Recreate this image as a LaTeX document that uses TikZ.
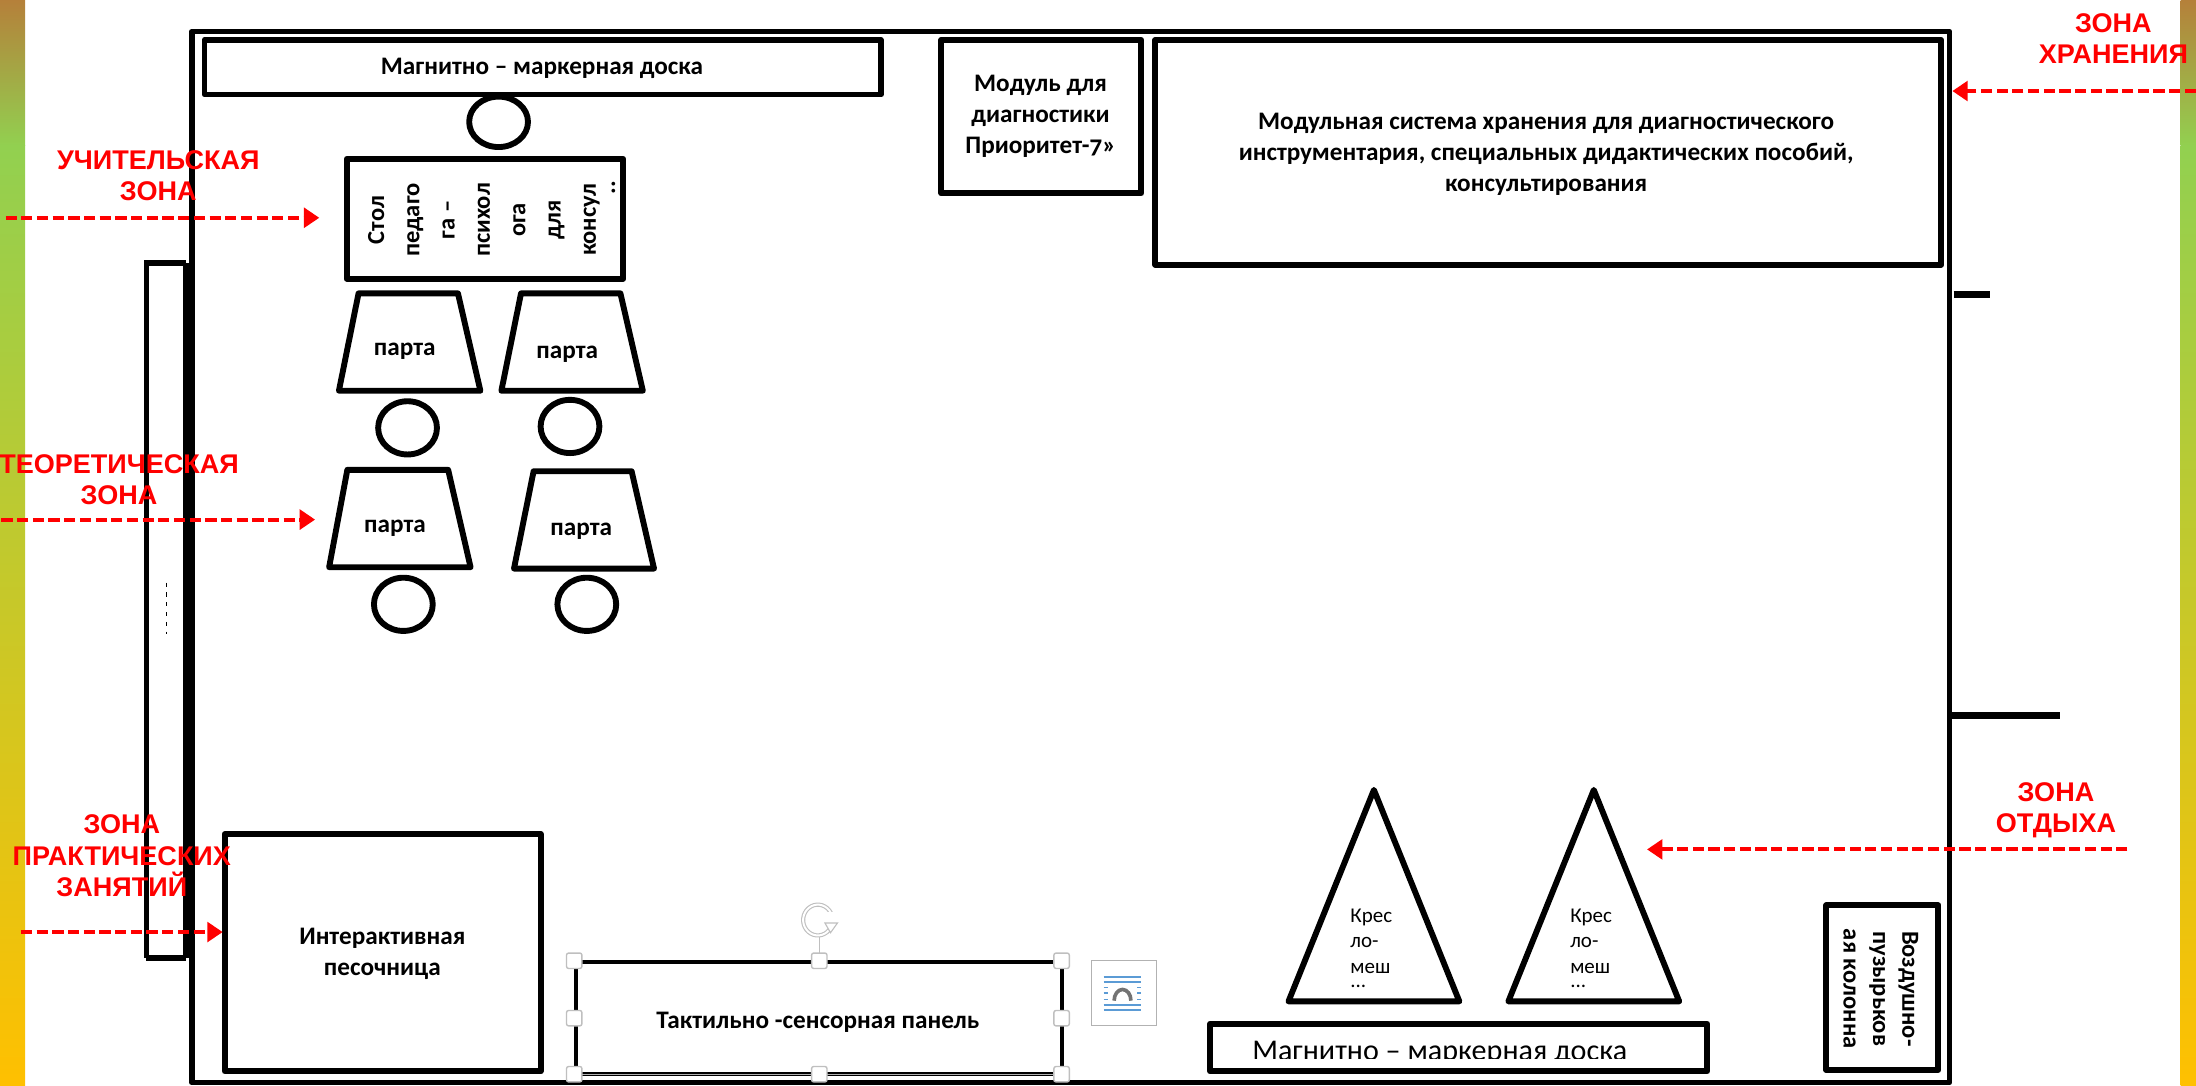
\documentclass[tikz,border=0pt]{standalone}
\usepackage{fontspec}
\setmainfont{Carlito}[Numbers=OldStyle]
\newfontfamily\zonefont{Liberation Sans}
\usetikzlibrary{arrows.meta}

\definecolor{stripbrown}{HTML}{B5803A}
\definecolor{stripgreen}{HTML}{92D050}
\definecolor{striporange}{HTML}{FFC000}
\definecolor{iconblue}{HTML}{5B9BD5}

\tikzset{
    wall/.style={line width=4pt, line join=round},
    item/.style={line width=4.2pt, line join=round},
    itemtext/.style={align=center, font=\fontsize{18}{22}\selectfont\bfseries},
    plaintext/.style={align=center, font=\fontsize{15}{22}\selectfont},
    chairtext/.style={align=left, anchor=north west, inner sep=0pt, font=\fontsize{15}{18}\selectfont},
    chairdots/.style={anchor=north west, inner sep=0pt, text height=2pt, text depth=0pt, font=\fontsize{15}{18}\selectfont},
    zonetext/.style={align=center, text=red, font=\zonefont\fontsize{19.3}{22.4}\selectfont\bfseries},
    zonearrow/.style={draw=red, line width=2.8pt, dash pattern=on 8pt off 3.2pt, -{Triangle[length=11pt,width=14pt]}},
    handle/.style={draw=black!25, fill=white, line width=1pt, rounded corners=1.5pt, minimum size=11pt, inner sep=0pt},
    iconline/.style={draw=iconblue, line width=1.1pt},
}

\begin{document}
\begin{tikzpicture}[x=1pt,y=-1pt]
        \useasboundingbox (0,0) rectangle (1568,775.4);

        % Side strips
        \shade [top color=stripbrown, bottom color=stripgreen] (0,0) rectangle (18,104);
        \shade [top color=stripgreen, bottom color=striporange] (0,104) rectangle (18,775.4);
        \shade [top color=stripbrown, bottom color=stripgreen] (1557,0) rectangle (1568,104);
        \shade [top color=stripgreen, bottom color=striporange] (1557,104) rectangle (1568,775.4);

        % Room
        \draw [wall] (137,22.5) rectangle (1392,773);
        \draw [line width=4pt] (104.5,684) -- (104.5,188) -- (133,188);
        \draw [line width=4pt] (104.5,684) -- (133,684);
        \draw [line width=6pt] (133.5,188) -- (133.5,684);
        \draw [black, line width=.6pt, dash pattern=on 3pt off 4pt] (118.5,416) -- (118.5,453);
        \draw [line width=5pt] (1395,210) -- (1421,210);
        \draw [line width=5pt] (1392,511) -- (1471,511);

        % Teacher zone
        \draw [item] (146,28.5) rectangle (629,67.5);
        \node [itemtext] (topboard) at (387,49) {Магнитно – маркерная доска};
        \draw [item] (356,87) ellipse (21 and 18);
        \draw [item] (247.5,113.5) rectangle (445,199);
        \node [itemtext, rotate=90, font=\fontsize{17.5}{25.2}\selectfont\bfseries] (teachertable) at (345.5,157) {Стол\\педаго\\га --\\психол\\ога\\для\\консул};
        \node [itemtext, rotate=90] (teacherdots) at (438,134) {..};

        % Desks
        \draw [item] (256,209.5) -- (327,209.5) -- (343,279) -- (242,279) -- cycle;
        \node [itemtext] (deskone) at (289,251) {парта};
        \draw [item] (372,209.5) -- (443,209.5) -- (459,279) -- (358,279) -- cycle;
        \node [itemtext] (desktwo) at (405,253) {парта};
        \draw [item] (291,305.5) ellipse (21 and 19);
        \draw [item] (407,304.5) ellipse (21 and 19);
        \draw [item] (248,335.5) -- (320,335.5) -- (336,405) -- (235,405) -- cycle;
        \node [itemtext] (deskthree) at (282,377) {парта};
        \draw [item] (381,336.5) -- (451,336.5) -- (467,406) -- (367,406) -- cycle;
        \node [itemtext] (deskfour) at (415,379) {парта};
        \draw [item] (288,431.5) ellipse (21 and 19);
        \draw [item] (419,431.5) ellipse (21 and 19);

        % Practice zone
        \draw [item] (160.5,595.5) rectangle (386,765);
        \node [itemtext] (sandbox) at (273,681) {Интерактивная\\песочница};

        \draw [line width=3pt] (411,687) rectangle (758,767);
        \draw [white!70!black, line width=.6pt] (411,767) -- (758,767);
        \node [itemtext] (panel) at (584,730) {Тактильно -сенсорная панель};
        \draw [black!25, line width=.7pt] (585,669) -- (585,687);
        \draw [black!25, line width=3pt] (592,664) arc (40:-320:10.5 and 11);
        \draw [white, line width=1.4pt] (592,664) arc (40:-320:10.5 and 11);
        \fill [white] (588,651) rectangle (600,659);
        \draw [black!25, line width=.8pt, fill=white] (589,659) -- (598,659) -- (593,666) -- cycle;
        \node [handle] (handlenw) at (410,686) {};
        \node [handle] (handlen) at (585,686) {};
        \node [handle] (handlene) at (758,686) {};
        \node [handle] (handlew) at (410,727) {};
        \node [handle] (handlee) at (758,727) {};
        \node [handle] (handlesw) at (410,767) {};
        \node [handle] (handles) at (585,767) {};
        \node [handle] (handlese) at (758,767) {};

        % Layout icon
        \draw [black!30, line width=.7pt] (779,686) rectangle (826,732);
        \draw [iconline] (788,697.5) -- (815,697.5);
        \draw [iconline] (788,701) -- (815,701);
        \draw [iconline, dashed] (788,705) -- (815,705);
        \draw [iconline, dashed] (788,709) -- (815,709);
        \draw [iconline, dashed] (788,713.5) -- (815,713.5);
        \draw [iconline] (788,717.5) -- (815,717.5);
        \draw [iconline] (788,721) -- (815,721);
        \fill [white] (793,704) rectangle (809,715);
        \draw [black!55, line width=2.6pt] (795.5,714.5) arc (180:360:6 and 8);

        % Storage zone
        \draw [item] (672,28.5) rectangle (815,138);
        \node [itemtext] (module) at (743,83) {Модуль для\\диагностики\\Приоритет-7»};
        \draw [item] (825,28.5) rectangle (1386,189);
        \node [itemtext] (storage) at (1104,110) {Модульная система хранения для диагностического\\инструментария, специальных дидактических пособий,\\консультирования};

        % Rest zone
        \draw [item] (981,564) -- (1042,715) -- (920,715) -- cycle;
        \draw [item] (1138,564) -- (1199,715) -- (1077,715) -- cycle;
        \node [chairtext] (chairone) at (964,649) {Крес\\ло-\\меш};
        \node [chairdots] (chaironedots) at (964,703) {...};
        \node [chairtext] (chairtwo) at (1121,649) {Крес\\ло-\\меш};
        \node [chairdots] (chairtwodots) at (1121,703) {...};
        \draw [item] (864,731) rectangle (1219,765);
        \begin{scope}
            \clip (867,733) rectangle (1216,756);
            \node [plaintext, font=\fontsize{21.5}{22}\selectfont] (bottomboard) at (1028,752) {Магнитно – маркерная доска};
        \end{scope}
        \draw [item] (1304,646.5) rectangle (1384,764);
        \node [plaintext, rotate=-90, font=\fontsize{17.5}{21}\selectfont\bfseries] (column) at (1343,706) {Воздушно-\\пузырьков\\ая колонна};

        % Zones
        \node [zonetext] (teacherzone) at (113,125.5) {УЧИТЕЛЬСКАЯ\\ЗОНА};
        \coordinate (teacherfrom) at (4,155.5);
        \coordinate (teacherto) at (228,155.5);
        \draw [zonearrow] (teacherfrom) -- (teacherto);

        \node [zonetext] (theoryzone) at (85,342.5) {ТЕОРЕТИЧЕСКАЯ\\ЗОНА};
        \coordinate (theoryfrom) at (1,371);
        \coordinate (theoryto) at (225,371);
        \draw [zonearrow] (theoryfrom) -- (theoryto);

        \node [zonetext] (practicezone) at (87,611) {ЗОНА\\ПРАКТИЧЕСКИХ\\ЗАНЯТИЙ};
        \coordinate (practicefrom) at (15,665.5);
        \coordinate (practiceto) at (159,665.5);
        \draw [zonearrow] (practicefrom) -- (practiceto);

        \node [zonetext] (storagezone) at (1509,27.5) {ЗОНА\\ХРАНЕНИЯ};
        \coordinate (storagefrom) at (1568,65);
        \coordinate (storageto) at (1394,65);
        \draw [zonearrow] (storagefrom) -- (storageto);

        \node [zonetext] (restzone) at (1468,578.5) {ЗОНА\\ОТДЫХА};
        \coordinate (restfrom) at (1519,606.5);
        \coordinate (restto) at (1176,606.5);
        \draw [zonearrow] (restfrom) -- (restto);
    \end{tikzpicture}
\end{document}
